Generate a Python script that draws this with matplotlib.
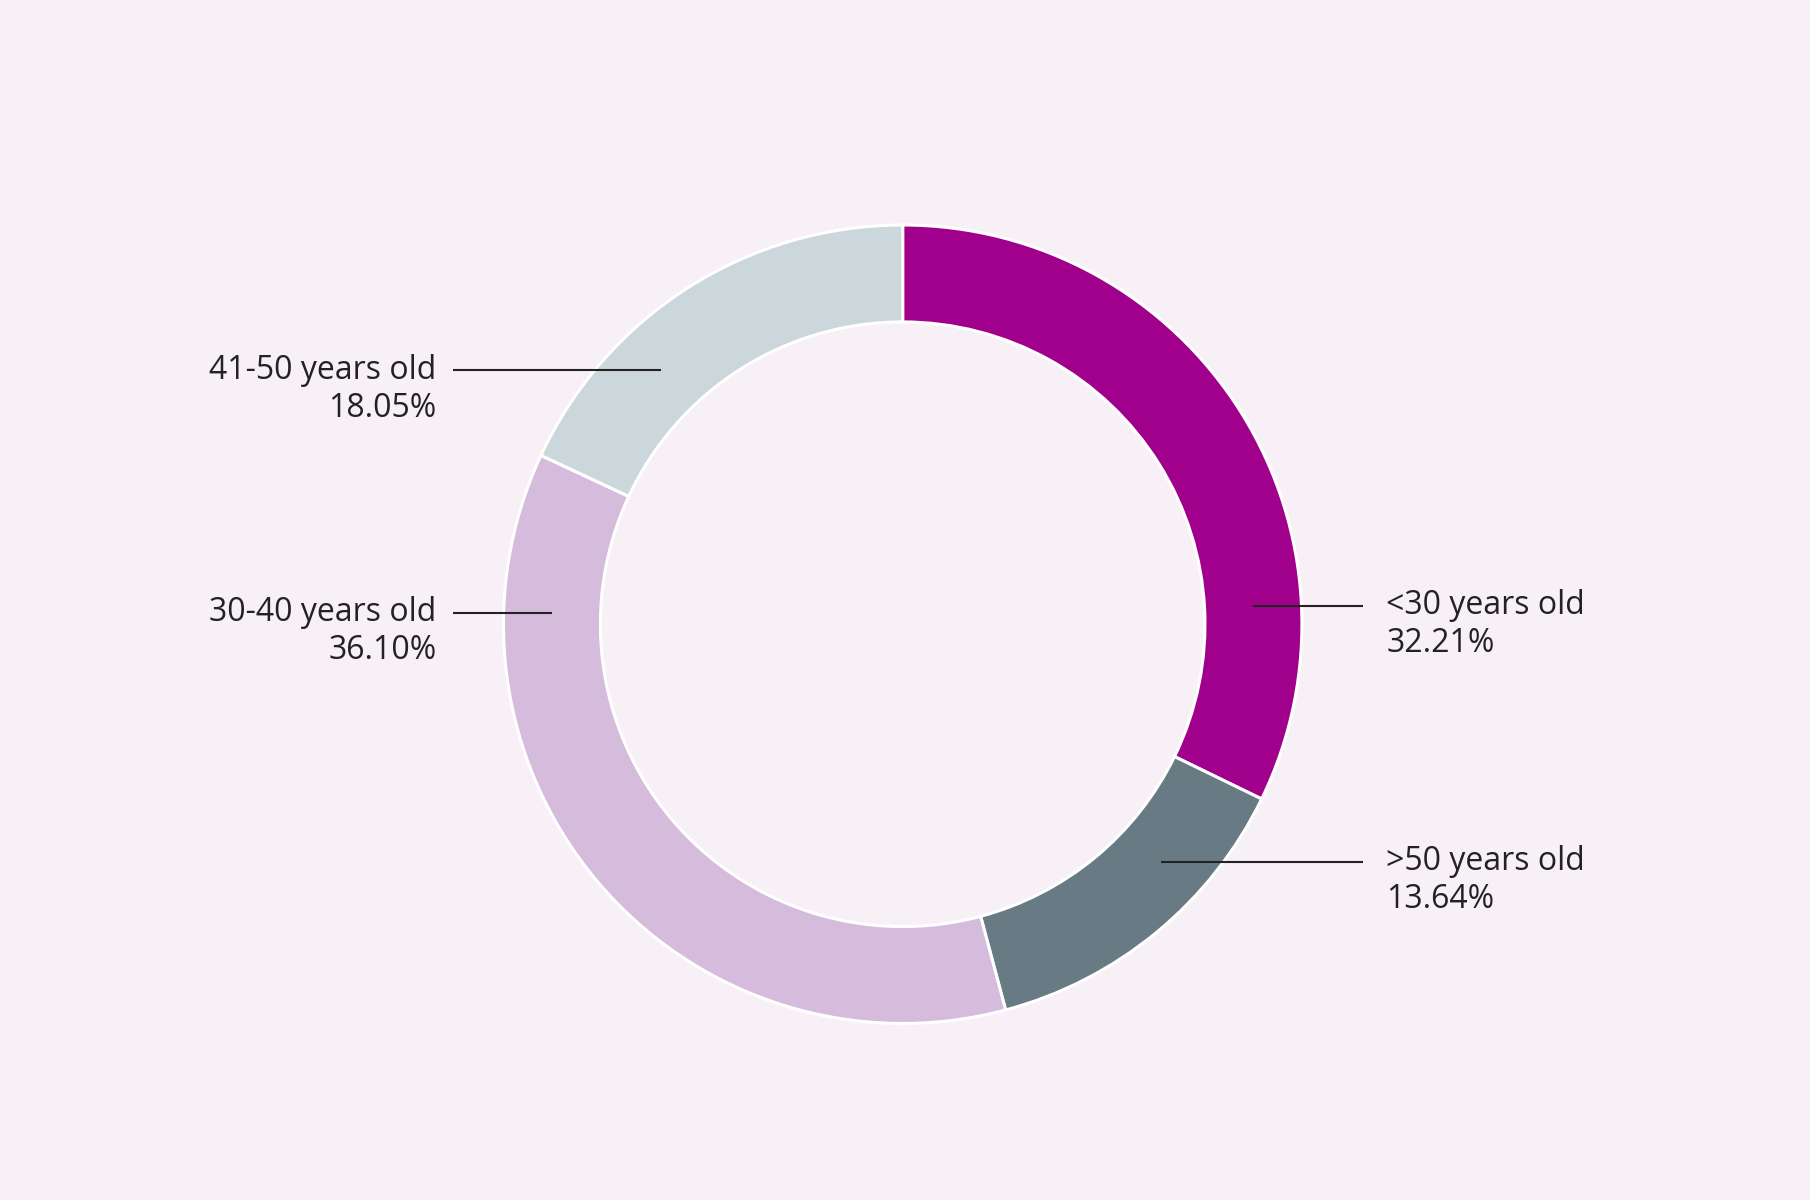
import numpy as np
import matplotlib
matplotlib.use("Agg")
import matplotlib.pyplot as plt

# data
labels = ["<30 years old", ">50 years old", "30-40 years old", "41-50 years old"]
shares = [32.21, 13.64, 36.10, 18.05]
colors = ["#A1008C", "#687A84", "#D5BBDC", "#CCD7DC"]

bg = "#F7F0F7"
ink = "#222222"

# layout in reference pixel units (1568 x 1040), y measured from top
W, H = 1568, 1040
cx, cy = 782, 541
R, ring = 346, 84
label_y = [525, 747, 531, 321]
side = ["right", "right", "left", "left"]

plt.rcParams["font.family"] = ["Open Sans", "DejaVu Sans"]
fs = 23

fig = plt.figure(figsize=(18.1, 12), dpi=100, facecolor=bg)
ax = fig.add_axes([0, 0, 1, 1])
ax.set_facecolor(bg)

ax.pie(shares, colors=colors, startangle=90, counterclock=False,
       center=(cx, H - cy), radius=R, frame=True,
       wedgeprops=dict(width=ring, edgecolor="white", linewidth=2.2))
ax.set_xlim(0, W)
ax.set_ylim(0, H)
ax.set_aspect("equal")
ax.axis("off")

rmid = R - ring / 2
for lab, val, ly, sd in zip(labels, shares, label_y, side):
    dy = ly - cy
    dx = np.sqrt(rmid ** 2 - dy ** 2)
    y = H - ly
    if sd == "right":
        ax.plot([cx + dx, 1181], [y, y], color=ink, lw=1.5, solid_capstyle="butt")
        ax.text(1201, y, lab, ha="left", va="center", fontsize=fs, color=ink)
        ax.text(1201, y - 33, f"{val:.2f}%", ha="left", va="center", fontsize=fs, color=ink)
    else:
        ax.plot([392, cx - dx], [y, y], color=ink, lw=1.5, solid_capstyle="butt")
        ax.text(378, y, lab, ha="right", va="center", fontsize=fs, color=ink)
        ax.text(378, y - 33, f"{val:.2f}%", ha="right", va="center", fontsize=fs, color=ink)

fig.savefig("out.png", dpi=100, facecolor=bg)
